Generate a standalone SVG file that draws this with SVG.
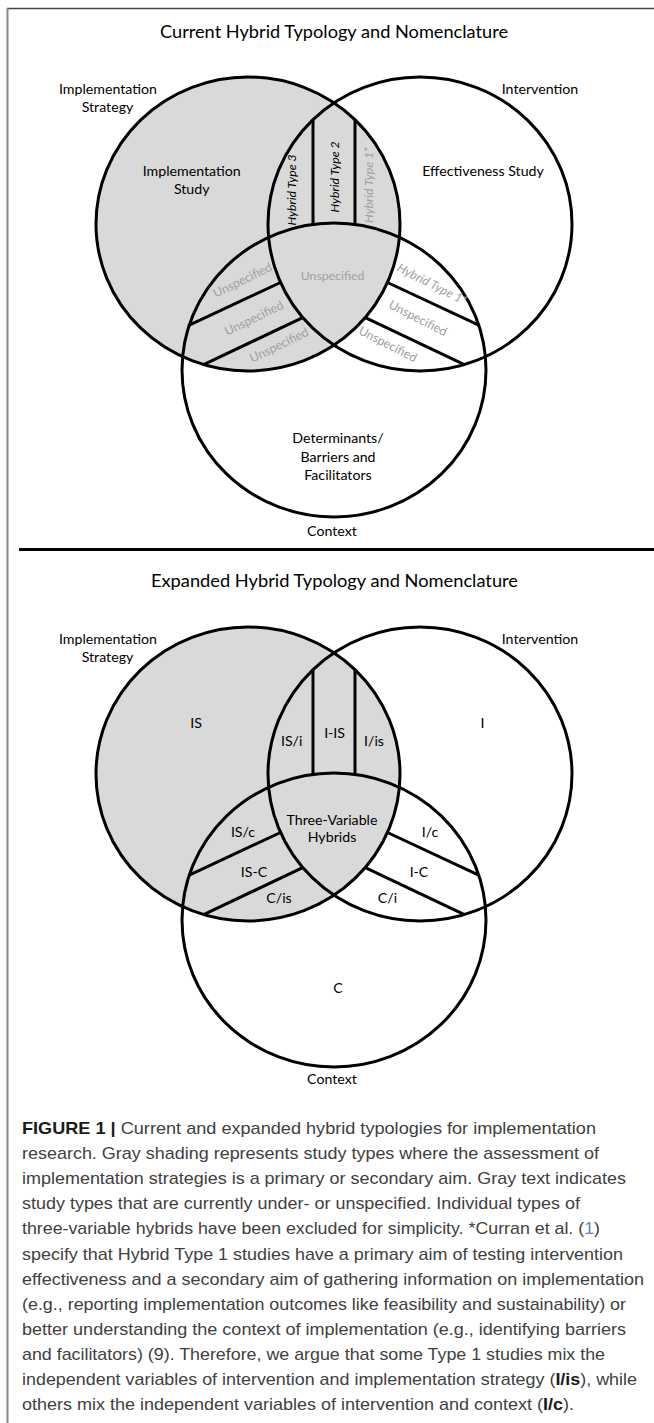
<svg xmlns="http://www.w3.org/2000/svg" width="654" height="1423" viewBox="0 0 654 1423">
<style>
.bg{fill:#fff}
.sh{fill:#d9d9d9;stroke:#000;stroke-width:3}
.ol{fill:none;stroke:#000;stroke-width:3}
.dv{fill:none;stroke:#000;stroke-width:3}
.t{font-family:Lato,'Open Sans',sans-serif;fill:#000;text-anchor:middle}
.ttl{font-size:18px}
.lab{font-size:14.2px}
.sm{font-size:12.3px}
.g{fill:#a0a0a0}
.it{font-style:italic}
.cap{font-family:'Liberation Sans',Arial,sans-serif;font-size:17px;fill:#404040}
.b{font-weight:bold;fill:#1a1a1a}
.ref{fill:#6b82b0}
</style>
<rect class="bg" x="0" y="0" width="654" height="1423"/>
<g id="frame">
<line x1="7" y1="8.5" x2="654" y2="8.5" stroke="#444" stroke-width="1.6"/>
<line x1="7.5" y1="8" x2="7.5" y2="1423" stroke="#888" stroke-width="2"/>
<line x1="19" y1="549.5" x2="654" y2="549.5" stroke="#000" stroke-width="3"/>
</g>

<!-- ===== Current typology ===== -->
<g id="current">
<text class="t ttl" x="334" y="38" textLength="348" lengthAdjust="spacingAndGlyphs">Current Hybrid Typology and Nomenclature</text>
<g id="cur-strategy">
<ellipse class="sh" cx="248" cy="224" rx="152" ry="147"/>
<text class="t lab" x="108" y="94">Implementation</text>
<text class="t lab" x="107.5" y="112">Strategy</text>
<text class="t lab" x="191.7" y="176">Implementation</text>
<text class="t lab" x="191.7" y="194">Study</text>
</g>
<g id="cur-intervention">
<ellipse class="ol" cx="420" cy="224" rx="152" ry="147"/>
<text class="t lab" x="540" y="94">Intervention</text>
<text class="t lab" x="483" y="176">Effectiveness Study</text>
</g>
<g id="cur-context">
<ellipse class="ol" cx="334" cy="370" rx="152" ry="147"/>
<text class="t lab" x="338" y="443">Determinants/</text>
<text class="t lab" x="338" y="462">Barriers and</text>
<text class="t lab" x="338" y="480">Facilitators</text>
<text class="t lab" x="332" y="536">Context</text>
</g>
<g id="cur-dividers">
<line class="dv" x1="313" y1="119.6" x2="313" y2="224.4"/>
<line class="dv" x1="355" y1="119.6" x2="355" y2="224.4"/>
<line class="dv" x1="188.2" y1="325.7" x2="280.5" y2="282.5"/>
<line class="dv" x1="203.6" y1="364.6" x2="303.2" y2="317.4"/>
<line class="dv" x1="479.8" y1="325.7" x2="387.5" y2="282.5"/>
<line class="dv" x1="464.4" y1="364.6" x2="364.8" y2="317.4"/>
</g>
<g id="cur-hybrid3"><text class="t sm it" transform="translate(292 190) rotate(-90)" dy="0.35em">Hybrid Type 3</text></g>
<g id="cur-hybrid2"><text class="t sm it" transform="translate(335 177) rotate(-90)" dy="0.35em">Hybrid Type 2</text></g>
<g id="cur-hybrid1a"><text class="t sm it g" transform="translate(369 185) rotate(-90)" dy="0.35em">Hybrid Type 1*</text></g>
<g id="cur-center"><text class="t sm g" x="332.5" y="280">Unspecified</text></g>
<g id="cur-isc1"><text class="t sm g" transform="translate(242.5 280) rotate(-26)" dy="0.35em">Unspecified</text></g>
<g id="cur-isc2"><text class="t sm g" transform="translate(254 318) rotate(-26)" dy="0.35em">Unspecified</text></g>
<g id="cur-isc3"><text class="t sm g" transform="translate(279 345) rotate(-26)" dy="0.35em">Unspecified</text></g>
<g id="cur-hybrid1b"><text class="t sm it g" transform="translate(432 284) rotate(27)" dy="0.35em">Hybrid Type 1*</text></g>
<g id="cur-ic2"><text class="t sm g" transform="translate(418 318) rotate(27)" dy="0.35em">Unspecified</text></g>
<g id="cur-ic3"><text class="t sm g" transform="translate(388 344) rotate(27)" dy="0.35em">Unspecified</text></g>
</g>

<!-- ===== Expanded typology ===== -->
<g id="expanded">
<text class="t ttl" x="334.5" y="587" textLength="367" lengthAdjust="spacingAndGlyphs">Expanded Hybrid Typology and Nomenclature</text>
<g id="exp-strategy">
<ellipse class="sh" cx="248" cy="774" rx="152" ry="147"/>
<text class="t lab" x="108" y="644">Implementation</text>
<text class="t lab" x="107.5" y="662">Strategy</text>
<text class="t lab" x="196" y="728">IS</text>
</g>
<g id="exp-intervention">
<ellipse class="ol" cx="420" cy="774" rx="152" ry="147"/>
<text class="t lab" x="540" y="644">Intervention</text>
<text class="t lab" x="482.5" y="728">I</text>
</g>
<g id="exp-context">
<ellipse class="ol" cx="334" cy="920" rx="152" ry="147"/>
<text class="t lab" x="338" y="993">C</text>
<text class="t lab" x="332" y="1084">Context</text>
</g>
<g id="exp-dividers">
<line class="dv" x1="313" y1="669.6" x2="313" y2="774.4"/>
<line class="dv" x1="355" y1="669.6" x2="355" y2="774.4"/>
<line class="dv" x1="188.2" y1="875.7" x2="280.5" y2="832.5"/>
<line class="dv" x1="203.6" y1="914.6" x2="303.2" y2="867.4"/>
<line class="dv" x1="479.8" y1="875.7" x2="387.5" y2="832.5"/>
<line class="dv" x1="464.4" y1="914.6" x2="364.8" y2="867.4"/>
</g>
<g id="exp-isi"><text class="t lab" x="291.7" y="746">IS/i</text></g>
<g id="exp-iis"><text class="t lab" x="334.6" y="738">I-IS</text></g>
<g id="exp-iis2"><text class="t lab" x="374" y="746">I/is</text></g>
<g id="exp-three"><text class="t lab" x="332" y="825">Three-Variable</text><text class="t lab" x="332" y="842">Hybrids</text></g>
<g id="exp-isc"><text class="t lab" x="243" y="837">IS/c</text></g>
<g id="exp-is-c"><text class="t lab" x="254" y="877">IS-C</text></g>
<g id="exp-cis"><text class="t lab" x="279" y="903">C/is</text></g>
<g id="exp-ic"><text class="t lab" x="430" y="837">I/c</text></g>
<g id="exp-i-c"><text class="t lab" x="419" y="877">I-C</text></g>
<g id="exp-ci"><text class="t lab" x="387.5" y="903">C/i</text></g>
</g>

<!-- ===== Caption ===== -->
<g id="caption">
<text class="cap" x="22" y="1134" textLength="574" lengthAdjust="spacingAndGlyphs"><tspan class="b">FIGURE 1 |</tspan> Current and expanded hybrid typologies for implementation</text>
<text class="cap" x="22" y="1159" textLength="577" lengthAdjust="spacingAndGlyphs">research. Gray shading represents study types where the assessment of</text>
<text class="cap" x="22" y="1184.2" textLength="604" lengthAdjust="spacingAndGlyphs">implementation strategies is a primary or secondary aim. Gray text indicates</text>
<text class="cap" x="22" y="1209.3" textLength="558" lengthAdjust="spacingAndGlyphs">study types that are currently under- or unspecified. Individual types of</text>
<text class="cap" x="22" y="1234.4" textLength="578" lengthAdjust="spacingAndGlyphs">three-variable hybrids have been excluded for simplicity. *Curran et al. (<tspan class="ref">1</tspan>)</text>
<text class="cap" x="22" y="1259.5" textLength="601" lengthAdjust="spacingAndGlyphs">specify that Hybrid Type 1 studies have a primary aim of testing intervention</text>
<text class="cap" x="22" y="1284.6" textLength="622" lengthAdjust="spacingAndGlyphs">effectiveness and a secondary aim of gathering information on implementation</text>
<text class="cap" x="22" y="1309.7" textLength="604" lengthAdjust="spacingAndGlyphs">(e.g., reporting implementation outcomes like feasibility and sustainability) or</text>
<text class="cap" x="22" y="1334.8" textLength="604" lengthAdjust="spacingAndGlyphs">better understanding the context of implementation (e.g., identifying barriers</text>
<text class="cap" x="22" y="1359.9" textLength="583" lengthAdjust="spacingAndGlyphs">and facilitators) (9). Therefore, we argue that some Type 1 studies mix the</text>
<text class="cap" x="22" y="1385" textLength="615" lengthAdjust="spacingAndGlyphs">independent variables of intervention and implementation strategy (<tspan class="b">I/is</tspan>), while</text>
<text class="cap" x="22" y="1410" textLength="552" lengthAdjust="spacingAndGlyphs">others mix the independent variables of intervention and context (<tspan class="b">I/c</tspan>).</text>
</g>
</svg>
